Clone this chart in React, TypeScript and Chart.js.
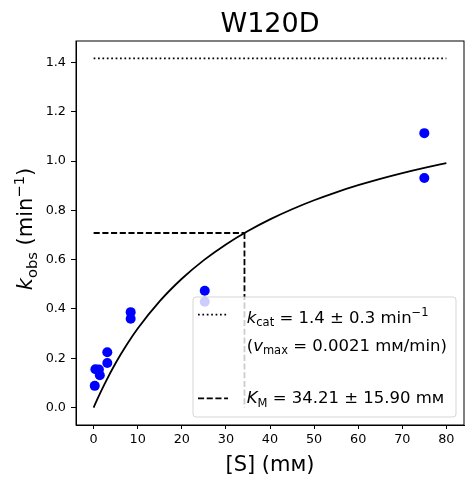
import { useEffect, useRef } from "react";
import { Chart, registerables } from "chart.js";

Chart.register(...registerables);

const chartTitle = "W120D";
const sConc = [0.25, 0.4, 1.2, 1.4, 3.1, 3.1, 8.4, 8.4, 25.2, 25.2, 75, 75];
const kobs = [0.088, 0.155, 0.154, 0.131, 0.224, 0.181, 0.387, 0.36, 0.474, 0.429, 1.113, 0.931];
const curveS = [0, 1, 2.5, 5, 7.5, 10, 15, 20, 25, 30, 35, 40, 45, 50, 55, 60, 65, 70, 75, 80];
const curveK = [0, 0.0402, 0.0964, 0.1806, 0.2546, 0.3203, 0.4316, 0.5224, 0.5979, 0.6616, 0.7161, 0.7632, 0.8044, 0.8408, 0.873, 0.9018, 0.9277, 0.9512, 0.9724, 0.9919];
const kcat = 1.416;
const KM = 34.21;
const xTicks = [0, 10, 20, 30, 40, 50, 60, 70, 80];
const yTicks = [0, 0.2, 0.4, 0.6, 0.8, 1.0, 1.2, 1.4];

const FONT = "'DejaVu Sans'";
type Seg = { t: string; size: number; dy?: number; italic?: boolean };
const segFont = (s: Seg) => `${s.italic ? "italic " : ""}${s.size}px ${FONT}`;
function richWidth(ctx: CanvasRenderingContext2D, segs: Seg[]) {
  let w = 0;
  for (const s of segs) {
    ctx.font = segFont(s);
    w += ctx.measureText(s.t).width;
  }
  return w;
}
function drawRich(ctx: CanvasRenderingContext2D, segs: Seg[], x: number, y: number) {
  let cx = x;
  for (const s of segs) {
    ctx.font = segFont(s);
    ctx.fillText(s.t, cx, y + (s.dy || 0));
    cx += ctx.measureText(s.t).width;
  }
}

const LW = 1.8;
const DASHED = [6.1, 2.6];
const DOTTED = [1.7, 2.7];

const decor = {
  id: "decor",
  afterDraw(chart: any) {
    const ctx: CanvasRenderingContext2D = chart.ctx;
    const a = chart.chartArea;
    ctx.save();
    ctx.fillStyle = "#000";
    ctx.textAlign = "left";
    ctx.textBaseline = "alphabetic";

    // legend
    const lx = 193, ly = 297, lw = 263, lh = 120, r = 3;
    ctx.beginPath();
    ctx.moveTo(lx + r, ly);
    ctx.arcTo(lx + lw, ly, lx + lw, ly + lh, r);
    ctx.arcTo(lx + lw, ly + lh, lx, ly + lh, r);
    ctx.arcTo(lx, ly + lh, lx, ly, r);
    ctx.arcTo(lx, ly, lx + lw, ly, r);
    ctx.closePath();
    ctx.fillStyle = "rgba(255,255,255,0.8)";
    ctx.fill();
    ctx.strokeStyle = "rgba(204,204,204,0.8)";
    ctx.lineWidth = 1;
    ctx.stroke();

    ctx.strokeStyle = "#000";
    ctx.lineWidth = LW;
    ctx.setLineDash(DOTTED);
    ctx.beginPath();
    ctx.moveTo(198, 314.7);
    ctx.lineTo(228, 314.7);
    ctx.stroke();
    ctx.setLineDash(DASHED);
    ctx.beginPath();
    ctx.moveTo(198, 398.3);
    ctx.lineTo(228, 398.3);
    ctx.stroke();
    ctx.setLineDash([]);

    ctx.fillStyle = "#000";
    const L = 16.5, S = 11.5;
    drawRich(ctx, [
      { t: "k", size: L, italic: true },
      { t: "cat", size: S, dy: 3.6 },
      { t: " = 1.4 ± 0.3 min", size: L },
      { t: "−1", size: S, dy: -6.6 },
    ], 246.7, 322.7);
    drawRich(ctx, [
      { t: "(", size: L },
      { t: "v", size: L, italic: true },
      { t: "max", size: S, dy: 3.6 },
      { t: " = 0.0021 mᴍ/min)", size: L },
    ], 246.7, 350.7);
    drawRich(ctx, [
      { t: "K", size: L, italic: true },
      { t: "M", size: S, dy: 3.6 },
      { t: " = 34.21 ± 15.90 mᴍ", size: L },
    ], 246.7, 403.3);

    // frame
    ctx.strokeStyle = "#000";
    ctx.lineWidth = 1;
    ctx.strokeRect(a.left, a.top, a.right - a.left, a.bottom - a.top);

    // title
    ctx.font = `27px ${FONT}`;
    ctx.textAlign = "center";
    ctx.fillText(chartTitle, (a.left + a.right) / 2, 32);

    // x label
    ctx.font = `21px ${FONT}`;
    ctx.fillText("[S] (mᴍ)", (a.left + a.right) / 2, 471);

    // y label
    ctx.textAlign = "left";
    const segs: Seg[] = [
      { t: "k", size: 21, italic: true },
      { t: "obs", size: 14.7, dy: 4.7 },
      { t: " (min", size: 21 },
      { t: "−1", size: 14.7, dy: -8.5 },
      { t: ")", size: 21 },
    ];
    const w = richWidth(ctx, segs);
    ctx.translate(32, 229);
    ctx.rotate(-Math.PI / 2);
    drawRich(ctx, segs, -w / 2, 0);
    ctx.restore();
  },
};

export default function App() {
  const ref = useRef<HTMLCanvasElement>(null);
  useEffect(() => {
    if (!ref.current) return;
    const chart = new Chart(ref.current, {
      type: "scatter",
      data: {
        datasets: [
          {
            label: "data",
            data: sConc.map((x, i) => ({ x, y: kobs[i] })),
            backgroundColor: "#0000ff",
            borderColor: "#0000ff",
            pointRadius: 5,
            pointBorderWidth: 0,
          },
          {
            label: "fit",
            data: curveS.map((x, i) => ({ x, y: curveK[i] })),
            showLine: true,
            borderColor: "#000",
            borderWidth: LW,
            pointRadius: 0,
            cubicInterpolationMode: "monotone",
          },
          {
            label: "vmax",
            data: [{ x: 0, y: kcat }, { x: 80, y: kcat }],
            showLine: true,
            borderColor: "#000",
            borderWidth: LW,
            borderDash: DOTTED,
            pointRadius: 0,
          },
          {
            label: "kmh",
            data: [{ x: 0, y: kcat / 2 }, { x: KM, y: kcat / 2 }],
            showLine: true,
            borderColor: "#000",
            borderWidth: LW,
            borderDash: DASHED,
            pointRadius: 0,
          },
          {
            label: "kmv",
            data: [{ x: KM, y: kcat / 2 }, { x: KM, y: 0 }],
            showLine: true,
            borderColor: "#000",
            borderWidth: LW,
            borderDash: DASHED,
            pointRadius: 0,
          },
        ],
      } as any,
      options: {
        animation: false,
        responsive: false,
        devicePixelRatio: 1,
        layout: { padding: { top: 41, right: 9, left: 0, bottom: 0 } },
        plugins: { legend: { display: false }, tooltip: { enabled: false }, title: { display: false } },
        scales: {
          x: {
            type: "linear",
            min: -4,
            max: 84,
            afterBuildTicks: (s: any) => { s.ticks = xTicks.map((v) => ({ value: v })); },
            afterFit: (s: any) => { s.height = 59; },
            grid: { display: true, drawOnChartArea: false, drawTicks: true, tickLength: 4, color: "#000", lineWidth: 1 },
            border: { display: true, color: "#000", width: 1 },
            ticks: { color: "#000", font: { family: FONT, size: 12.8 }, padding: 3, maxRotation: 0, callback: (v: any) => String(v) },
          },
          y: {
            type: "linear",
            min: -0.0708,
            max: 1.4868,
            afterBuildTicks: (s: any) => { s.ticks = yTicks.map((v) => ({ value: v })); },
            afterFit: (s: any) => { s.width = 76; },
            grid: { display: true, drawOnChartArea: false, drawTicks: true, tickLength: 5, color: "#000", lineWidth: 1 },
            border: { display: true, color: "#000", width: 1 },
            ticks: { color: "#000", font: { family: FONT, size: 12.8 }, padding: 5, callback: (v: any) => Number(v).toFixed(1) },
          },
        },
      } as any,
      plugins: [decor],
    });
    return () => chart.destroy();
  }, []);
  return (
    <div style={{ position: "fixed", left: 0, top: 0, width: 473, height: 484, background: "#fff" }}>
      <canvas ref={ref} width={473} height={484} style={{ width: 473, height: 484, display: "block" }} />
    </div>
  );
}
